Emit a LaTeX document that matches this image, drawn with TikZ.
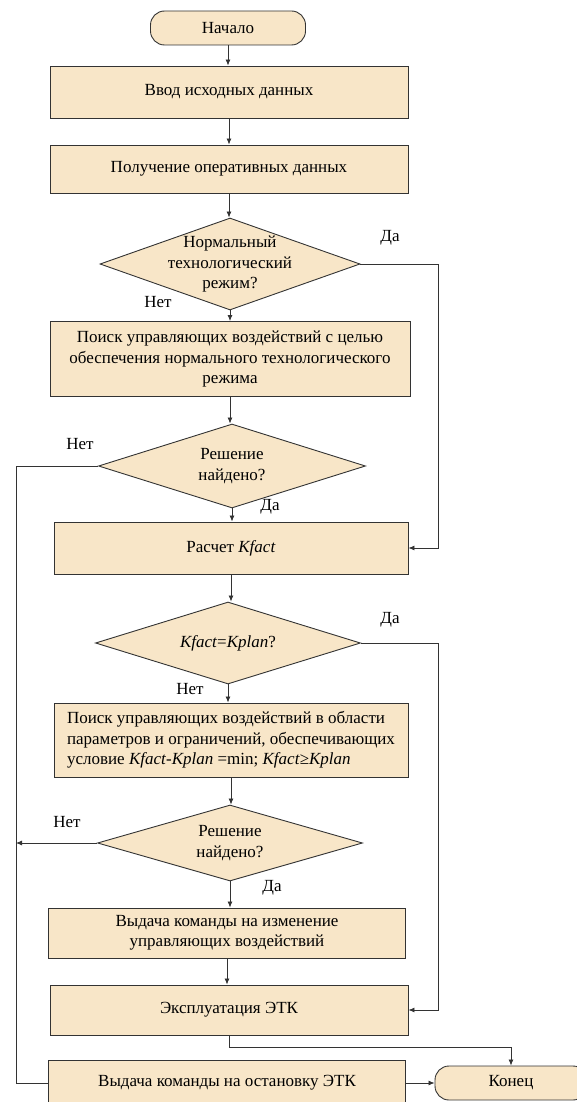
\documentclass[tikz,border=0pt]{standalone}
\usepackage{fontspec}
\setmainfont{Liberation Serif}
\usetikzlibrary{shapes.geometric,arrows.meta}
\definecolor{boxfill}{HTML}{F8E6C8}
\definecolor{boxline}{HTML}{333333}
\tikzset{
    block/.style={draw=boxline,fill=boxfill,line width=0.9pt,inner sep=0pt,align=center},
    terminal/.style={draw=boxline,fill=boxfill,line width=0.9pt,rounded corners=14pt,
        minimum height=34pt,inner sep=0pt},
    decision/.style={draw=boxline,fill=boxfill,line width=0.9pt,diamond,inner sep=0pt},
    flow/.style={draw=boxline,line width=0.8pt,-{Latex[length=6pt,width=5pt]}},
    link/.style={draw=boxline,line width=0.8pt},
    answer/.style={inner sep=0pt}
}
\begin{document}
\begin{tikzpicture}[x=1pt,y=-1pt,font=\fontsize{17}{20.5}\selectfont]
        \useasboundingbox (0,0) rectangle (577,1102);
        %% Blocks
        \node[terminal,minimum width=155pt] (start) at (228,28) {Начало};
        \node[block,minimum width=358pt,minimum height=52pt] (input) at (229,92)
            {Ввод исходных данных};
        \node[block,minimum width=358pt,minimum height=48pt] (receive) at (229,169)
            {Получение оперативных данных};
        \node[decision,minimum width=260pt,minimum height=92pt] (normal) at (230,264) {};
        \node[align=center,inner sep=0pt] (normaltxt) at (normal)
            {Нормальный\\технологический\\режим?};
        \node[block,minimum width=360pt,minimum height=75pt] (search1) at (230,359)
            {Поиск управляющих воздействий с целью\\обеспечения нормального технологического\\режима};
        \node[decision,minimum width=267pt,minimum height=84pt] (found1) at (232,466) {};
        \node[align=center,inner sep=0pt] (found1txt) at (found1) {Решение\\найдено?};
        \node[block,minimum width=354pt,minimum height=52pt] (kfact) at (231,548)
            {Расчет \textit{Kfact}};
        \node[decision,minimum width=265pt,minimum height=82pt] (equal) at (228,643) {};
        \node[inner sep=0pt] (equaltxt) at (equal) {\textit{Kfact}=\textit{Kplan}?};
        \node[block,minimum width=354pt,minimum height=74pt,align=left] (search2) at (231,740)
            {Поиск управляющих воздействий в области\\параметров и ограничений, обеспечивающих\\
            условие \textit{Kfact}-\textit{Kplan} =min; \textit{Kfact}≥\textit{Kplan}};
        \node[decision,minimum width=265pt,minimum height=76pt] (found2) at (230,843) {};
        \node[align=center,inner sep=0pt] (found2txt) at (found2) {Решение\\найдено?};
        \node[block,minimum width=357pt,minimum height=50pt] (command) at (227,933)
            {Выдача команды на изменение\\управляющих воздействий};
        \node[block,minimum width=358pt,minimum height=50pt] (operate) at (229,1010)
            {Эксплуатация ЭТК};
        \node[block,minimum width=357pt,minimum height=46pt] (stop) at (227,1083)
            {Выдача команды на остановку ЭТК};
        \node[terminal,minimum width=152pt] (finish) at (511,1083) {Конец};
        %% Main line
        \draw[flow] (start) -- (start |- input.north);
        \draw[flow] (input) -- (input |- receive.north);
        \draw[flow] (receive) -- (receive |- normal.north);
        \draw[flow] (normal) -- (normal |- search1.north);
        \draw[flow] (search1) -- (search1 |- found1.north);
        \draw[flow] (found1) -- (found1 |- kfact.north);
        \draw[flow] (kfact) -- (kfact |- equal.north);
        \draw[flow] (equal) -- (equal |- search2.north);
        \draw[flow] (search2) -- (search2 |- found2.north);
        \draw[flow] (found2) -- (found2 |- command.north);
        \draw[flow] (command) -- (command |- operate.north);
        %% Branches
        \coordinate (yes1) at (438,264);
        \draw[flow] (normal.east) -- (yes1) |- (kfact.east);
        \coordinate (yes2) at (438,643);
        \draw[flow] (equal.east) -- (yes2) |- (operate.east);
        \coordinate (no1) at (16,466);
        \draw[link] (found1.west) -- (no1) |- (stop.west);
        \coordinate (no2) at (16,843);
        \draw[flow] (found2.west) -- (no2);
        \coordinate (turn) at (229,1047);
        \draw[flow] (operate.south) -- (turn) -| (finish.north);
        \draw[flow] (stop.east) -- (stop.east -| finish.west);
        %% Labels
        \node[answer] (yes1lbl) at (390,238) {Да};
        \node[answer] (no1lbl) at (158,302) {Нет};
        \node[answer] (no2lbl) at (80,444) {Нет};
        \node[answer] (yes2lbl) at (270,507) {Да};
        \node[answer] (yes3lbl) at (390,620) {Да};
        \node[answer] (no3lbl) at (190,689) {Нет};
        \node[answer] (no4lbl) at (67,822) {Нет};
        \node[answer] (yes4lbl) at (272,888) {Да};
    \end{tikzpicture}
\end{document}
